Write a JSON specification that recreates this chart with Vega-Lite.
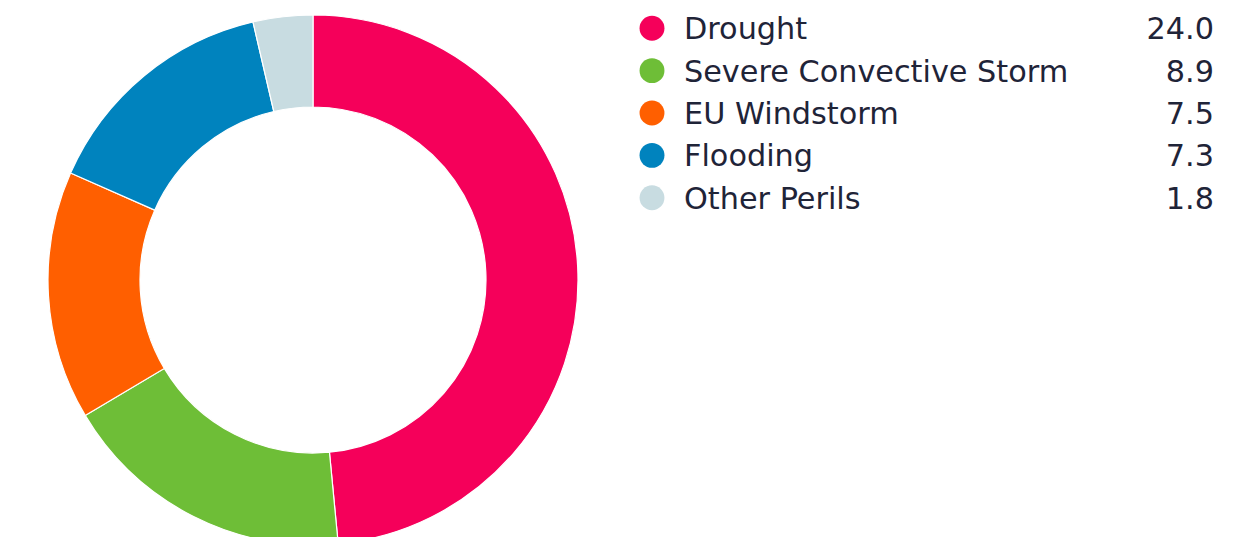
{
  "$schema": "https://vega.github.io/schema/vega-lite/v6.json",
  "padding": 0,
  "background": "white",
  "config": {"view": {"stroke": null}, "concat": {"spacing": 13}},
  "data": {"values": [
    {"peril": "Drought", "value": 24.0, "label": "24.0"},
    {"peril": "Severe Convective Storm", "value": 8.9, "label": "8.9"},
    {"peril": "EU Windstorm", "value": 7.5, "label": "7.5"},
    {"peril": "Flooding", "value": 7.3, "label": "7.3"},
    {"peril": "Other Perils", "value": 1.8, "label": "1.8"}
  ]},
  "hconcat": [
    {
      "width": 626,
      "height": 560,
      "mark": {"type": "arc", "outerRadius": 265, "innerRadius": 173, "stroke": "white", "strokeWidth": 1.2},
      "encoding": {
        "theta": {"field": "value", "type": "quantitative", "stack": true},
        "order": {"field": "value", "sort": "descending"},
        "color": {
          "field": "peril", "type": "nominal", "legend": null,
          "scale": {
            "domain": ["Drought", "Severe Convective Storm", "EU Windstorm", "Flooding", "Other Perils"],
            "range": ["#F5005A", "#6EBE37", "#FF5F00", "#0083BE", "#C8DCE1"]
          }
        }
      }
    },
    {
      "width": 562,
      "height": 226,
      "encoding": {
        "y": {
          "field": "peril", "type": "nominal", "axis": null,
          "sort": ["Drought", "Severe Convective Storm", "EU Windstorm", "Flooding", "Other Perils"],
          "scale": {"type": "point", "padding": 0.668}
        }
      },
      "layer": [
        {
          "mark": {"type": "point", "shape": "circle", "filled": true, "opacity": 1, "size": 620},
          "encoding": {
            "x": {"datum": 0, "type": "quantitative", "axis": null, "scale": {"domain": [0, 1]}},
            "color": {
              "field": "peril", "type": "nominal", "legend": null,
              "scale": {
                "domain": ["Drought", "Severe Convective Storm", "EU Windstorm", "Flooding", "Other Perils"],
                "range": ["#F5005A", "#6EBE37", "#FF5F00", "#0083BE", "#C8DCE1"]
              }
            }
          }
        },
        {
          "mark": {"type": "text", "align": "left", "baseline": "middle", "dx": 32, "dy": 2, "font": "DejaVu Sans", "fontSize": 30.3, "color": "#1F2438"},
          "encoding": {
            "x": {"datum": 0, "type": "quantitative", "axis": null, "scale": {"domain": [0, 1]}},
            "text": {"field": "peril"}
          }
        },
        {
          "mark": {"type": "text", "align": "right", "baseline": "middle", "dy": 2, "font": "DejaVu Sans", "fontSize": 30.3, "color": "#1F2438"},
          "encoding": {
            "x": {"datum": 1, "type": "quantitative", "axis": null, "scale": {"domain": [0, 1]}},
            "text": {"field": "label"}
          }
        }
      ]
    }
  ]
}
